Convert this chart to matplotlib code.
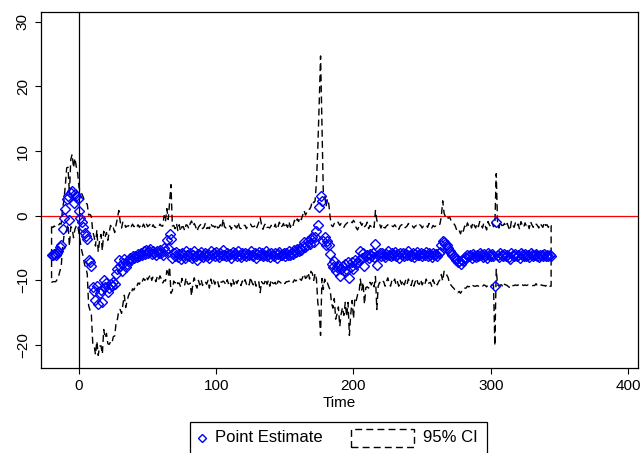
import matplotlib
matplotlib.use('Agg')
import matplotlib.pyplot as plt
from matplotlib.lines import Line2D
from matplotlib.patches import Rectangle
import numpy as np

plt.rcParams['font.family'] = ['Liberation Sans', 'DejaVu Sans']

# daily event-time estimates, first day = -20
first_day = -20
estimate = [
    -6.0, -6.0, -5.9, -6.0, -5.8, -5.5, -4.9, -4.6, -2.0, -0.4,    # -20
    1.0, 2.6, 3.1, -0.7, 3.5, 3.8, 2.0, 3.4, 3.0, 2.6,             # -10
    0.8, -0.3, -1.0, -1.7, -2.6, -3.1, -3.6, -6.9, -7.2, -7.7,     # 0
    -11.1, -11.6, -13.1, -10.8, -13.6, -12.0, -11.5, -13.4, -10.0, -11.1,  # 10
    -10.4, -11.8, -11.2, -10.5, -10.9, -10.3, -10.6, -9.0, -8.2, -6.9,     # 20
    -7.7, -8.5, -7.3, -6.7, -8.0, -7.4, -7.0, -6.6, -6.9, -6.3,    # 30
    -6.6, -6.2, -6.4, -5.9, -6.2, -5.7, -6.0, -5.5, -5.9, -5.3,    # 40
    -5.8, -5.5, -5.2, -5.9, -5.4, -5.7, -6.0, -5.5, -5.8, -5.3,    # 50
    -5.7, -6.0, -5.0, -5.5, -3.7, -5.0, -2.9, -3.6, -6.6, -5.8,    # 60
    -6.2, -5.6, -6.4, -5.9, -6.7, -5.7, -6.1, -6.5, -5.5, -6.0,    # 70
    -6.3, -5.8, -6.6, -6.0, -5.4, -6.2, -6.8, -5.9, -6.1, -5.6,    # 80
    -6.4, -6.0, -5.7, -6.3, -5.9, -6.6, -5.5, -6.1, -5.8, -6.2,    # 90
    -5.6, -6.0, -6.4, -5.8, -6.1, -5.3, -6.0, -6.3, -5.7, -6.1,    # 100
    -5.9, -6.5, -5.6, -6.0, -5.8, -6.2, -5.5, -6.1, -6.4, -5.8,    # 110
    -6.0, -5.7, -6.3, -5.9, -6.1, -5.4, -6.0, -6.2, -5.8, -6.5,    # 120
    -5.9, -5.6, -6.1, -5.8, -6.3, -6.0, -5.5, -6.2, -5.9, -6.4,    # 130
    -5.7, -6.0, -6.2, -5.8, -6.5, -5.9, -5.6, -6.1, -6.0, -5.7,    # 140
    -6.2, -5.8, -6.0, -5.5, -6.1, -5.7, -5.9, -5.3, -5.6, -5.2,    # 150
    -5.5, -5.0, -5.3, -4.7, -4.1, -4.8, -4.5, -3.9, -4.4, -3.6,    # 160
    -3.3, -4.0, -3.3, -2.3, -1.5, 1.3, 3.1, 2.3, -3.9, -3.3,       # 170
    -4.6, -3.9, -4.6, -5.9, -7.5, -8.0, -7.0, -8.5, -8.0, -7.6,    # 180
    -9.3, -8.2, -7.8, -8.6, -7.4, -8.4, -7.2, -9.7, -8.0, -7.1,    # 190
    -8.3, -6.9, -7.5, -7.2, -6.8, -5.4, -6.5, -5.7, -7.7, -6.3,    # 200
    -6.0, -6.6, -5.9, -6.2, -5.8, -6.4, -4.3, -7.6, -6.1, -5.8,    # 210
    -6.2, -5.7, -6.0, -6.4, -5.9, -5.5, -6.1, -6.3, -5.8, -6.0,    # 220
    -5.6, -6.2, -5.9, -6.5, -5.8, -6.0, -5.7, -6.3, -5.9, -6.1,    # 230
    -5.5, -6.0, -6.2, -5.8, -6.4, -5.9, -5.6, -6.1, -6.0, -5.7,    # 240
    -6.3, -5.9, -6.1, -5.6, -6.2, -5.8, -6.0, -6.4, -5.7, -6.1,    # 250
    -5.9, -6.2, -5.8, -5.6, -4.6, -3.9, -4.1, -4.4, -4.6, -5.0,    # 260
    -5.4, -5.7, -6.0, -6.2, -6.5, -6.9, -7.2, -7.0, -7.4, -6.8,    # 270
    -7.0, -6.4, -6.6, -6.0, -6.3, -6.1, -6.5, -5.9, -6.2, -6.4,    # 280
    -6.0, -6.3, -5.8, -6.1, -6.4, -5.9, -6.2, -6.6, -5.8, -6.1,    # 290
    -6.3, -5.9, -6.2, -10.8, -0.9, -6.0, -6.4, -5.8, -6.1, -6.3,   # 300
    -5.9, -6.2, -6.0, -6.4, -6.7, -5.8, -6.1, -6.3, -5.9, -6.2,    # 310
    -6.0, -6.5, -5.8, -6.1, -6.3, -5.9, -6.2, -6.0, -6.4, -5.8,    # 320
    -6.1, -6.3, -6.0, -5.9, -6.2, -6.4, -6.0, -6.1, -6.3, -5.9,    # 330
    -6.2, -6.0, -6.3, -6.1, -6.2,                                  # 340
]

# half width of the 95% interval
half_width = [
    4.3, 4.2, 4.3, 4.2, 4.1, 4.0, 3.7, 3.3, 3.0, 2.8,   # -20
    3.6, 4.8, 4.4, 4.0, 5.2, 5.7, 5.4, 5.5, 4.6, 4.0,   # -10
    3.6, 3.9, 4.4, 4.6, 4.9, 5.0, 5.4, 7.0, 7.4, 7.6,   # 0
    8.6, 8.4, 8.4, 8.6, 8.0, 8.2, 8.6, 8.0, 7.6, 7.8,   # 10
    7.8, 8.0, 8.7, 9.0, 8.8, 8.4, 8.0, 7.6, 7.8, 7.7,   # 20
    6.8, 6.6, 6.4, 5.6, 6.2, 5.8, 5.4, 5.3, 5.2, 5.0,   # 30
    4.9, 4.7, 4.6, 4.5, 4.4, 4.3, 4.2, 4.2, 4.1, 4.1,   # 40
    4.1, 4.0, 3.9, 4.1, 4.0, 3.9, 4.2, 3.9, 4.1, 4.0,   # 50
    4.1, 4.4, 5.0, 4.6, 4.8, 4.4, 5.0, 8.4, 5.0, 4.3,   # 60
    4.2, 4.4, 4.1, 4.5, 4.3, 4.0, 4.4, 4.2, 4.1, 4.5,   # 70
    4.3, 4.6, 5.8, 4.4, 4.2, 4.5, 4.4, 4.1, 4.6, 4.3,   # 80
    4.4, 4.2, 4.5, 4.3, 4.1, 4.6, 4.3, 4.5, 4.2, 4.4,   # 90
    4.3, 4.1, 4.6, 4.4, 4.2, 4.8, 4.3, 4.4, 4.2, 4.5,   # 100
    4.3, 4.4, 4.2, 4.6, 4.1, 4.3, 4.5, 4.2, 4.4, 4.3,   # 110
    4.5, 4.2, 4.3, 4.4, 4.6, 4.1, 4.3, 4.5, 4.2, 4.4,   # 120
    4.3, 4.6, 5.8, 4.4, 4.2, 4.5, 4.3, 4.4, 4.1, 4.5,   # 130
    4.2, 4.4, 4.3, 4.5, 4.4, 4.2, 4.6, 4.3, 4.4, 4.5,   # 140
    4.3, 4.4, 4.2, 4.6, 4.3, 4.5, 4.4, 4.6, 4.5, 4.7,   # 150
    4.6, 4.8, 4.7, 4.8, 4.9, 4.9, 5.0, 4.9, 5.4, 5.0,   # 160
    5.6, 6.0, 5.6, 7.5, 12.0, 16.0, 21.6, 12.0, 7.5, 6.5,  # 170
    6.0, 6.5, 6.4, 5.6, 6.0, 6.3, 5.8, 7.5, 7.2, 6.5,   # 180
    7.8, 7.0, 6.4, 6.8, 6.0, 7.2, 6.2, 8.8, 7.2, 6.0,   # 190
    7.6, 5.8, 5.6, 5.0, 5.2, 4.4, 5.0, 4.6, 6.0, 4.8,   # 200
    5.0, 4.6, 4.4, 4.5, 4.4, 4.6, 5.1, 6.9, 4.8, 4.5,   # 210
    4.3, 4.4, 4.2, 4.5, 4.3, 4.1, 4.4, 4.6, 4.2, 4.3,   # 220
    4.2, 4.5, 4.3, 4.4, 4.2, 4.6, 4.3, 4.4, 4.1, 4.5,   # 230
    4.3, 4.4, 4.6, 4.2, 4.5, 4.3, 4.1, 4.4, 4.6, 4.2,   # 240
    4.4, 4.3, 4.5, 4.2, 4.4, 4.6, 4.3, 4.5, 4.2, 4.4,   # 250
    4.3, 4.5, 4.4, 4.3, 4.5, 6.2, 4.5, 4.2, 4.6, 4.6,   # 260
    5.2, 5.0, 5.0, 5.0, 5.0, 4.8, 4.7, 4.7, 4.6, 4.8,   # 270
    4.6, 4.8, 4.6, 4.9, 4.7, 4.8, 4.6, 4.9, 4.7, 4.5,   # 280
    4.8, 4.6, 4.9, 4.7, 4.5, 4.8, 4.6, 4.4, 4.9, 4.7,   # 290
    4.6, 4.8, 4.5, 9.3, 7.4, 4.7, 4.5, 4.9, 4.6, 4.8,   # 300
    4.7, 4.5, 4.8, 4.6, 4.4, 4.9, 4.7, 4.5, 4.8, 4.6,   # 310
    4.7, 4.4, 4.9, 4.6, 4.5, 4.8, 4.6, 4.7, 4.4, 4.9,   # 320
    4.7, 4.5, 4.8, 4.6, 4.7, 4.5, 4.8, 4.6, 4.5, 4.9,   # 330
    4.7, 4.6, 4.5, 4.8, 4.7,                            # 340
]

x_ticks = [0, 100, 200, 300, 400]
y_ticks = [-20, -10, 0, 10, 20, 30]

est = np.array(estimate)
hw = np.array(half_width)
days = np.arange(first_day, first_day + len(est))
lower = est - hw
upper = est + hw

W, H = 643, 453
fig = plt.figure(figsize=(W / 100, H / 100), dpi=100)
ax = fig.add_axes([41 / W, 1 - 368 / H, (638 - 41) / W, (368 - 12) / H])

dash = (0, (5, 3))
ax.fill_between(days, lower, upper, facecolor='none', edgecolor='black',
                linestyle=dash, linewidth=1.0, zorder=2)
ax.axhline(0, color='red', linewidth=0.9, zorder=1)
ax.axvline(0, color='black', linewidth=0.9, zorder=1)
ax.plot(days, est, linestyle='none', marker='D', markersize=5.2,
        markerfacecolor='none', markeredgecolor='#0000ff',
        markeredgewidth=1.0, zorder=3)

ax.set_xlim(-27.7, 407.3)
ax.set_ylim(-23.55, 31.5)
ax.set_xticks(x_ticks)
ax.set_yticks(y_ticks)
ax.tick_params(direction='out', length=4, width=0.8, labelsize=11, pad=4)
for lab in ax.get_yticklabels():
    lab.set_rotation(90)
    lab.set_va('center')
for sp in ax.spines.values():
    sp.set_linewidth(0.9)
ax.set_xlabel('Time', fontsize=11, labelpad=2)

# legend box below the plot, drawn by hand to get Stata's wide area key
def fx(px):
    return px / W

def fy(py):
    return 1 - py / H

fig.add_artist(Rectangle((fx(190), fy(456)), fx(487) - fx(190), fy(422) - fy(456),
                         transform=fig.transFigure, facecolor='white',
                         edgecolor='black', linewidth=0.9))
fig.add_artist(Line2D([fx(202)], [fy(438)], marker='D', markersize=4,
                      markerfacecolor='none', markeredgecolor='#0000ff',
                      markeredgewidth=1.0, transform=fig.transFigure))
fig.text(fx(215), fy(438), 'Point Estimate', fontsize=12, va='center', ha='left')
fig.add_artist(Rectangle((fx(351), fy(447)), fx(414) - fx(351), fy(429) - fy(447),
                         transform=fig.transFigure, facecolor='none',
                         edgecolor='black', linewidth=1.0, linestyle=dash))
fig.text(fx(423), fy(438), '95% CI', fontsize=12, va='center', ha='left')

fig.savefig('out.png', dpi=100)
